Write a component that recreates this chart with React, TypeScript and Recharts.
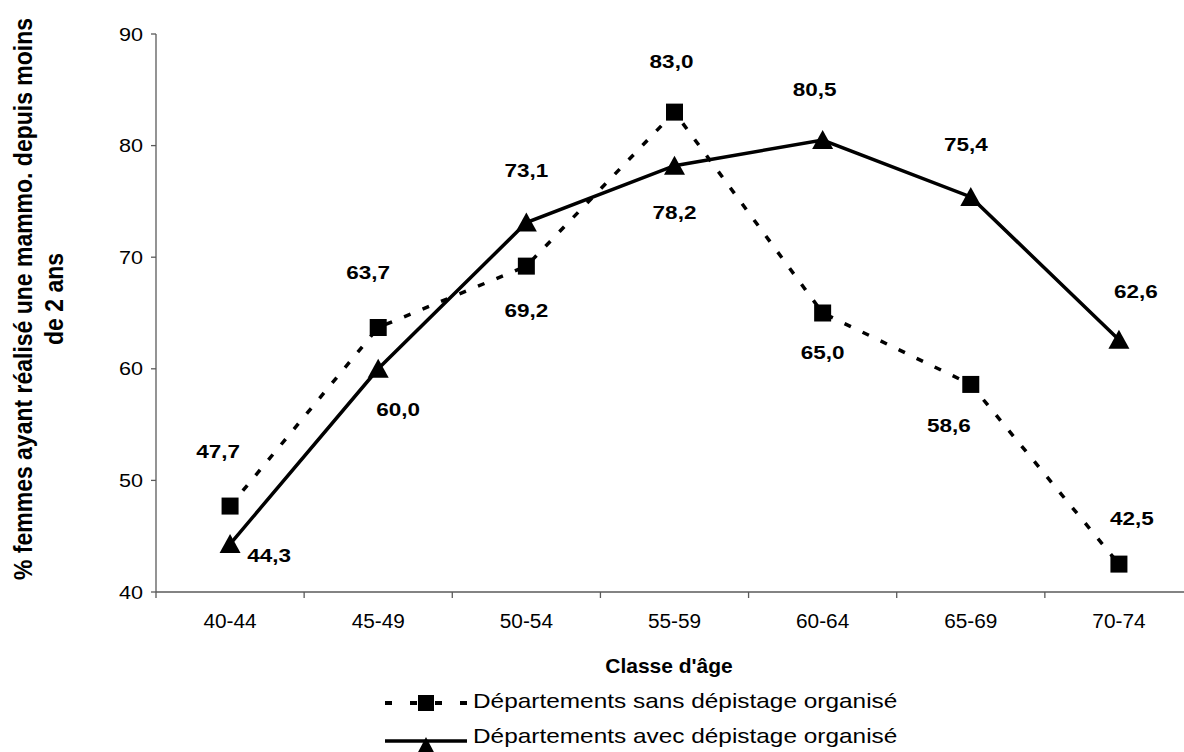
import { LineChart, Line, XAxis, YAxis, LabelList, Label } from 'recharts';

const ageClasses = ['40-44', '45-49', '50-54', '55-59', '60-64', '65-69', '70-74'];
const sansDepistage = [47.7, 63.7, 69.2, 83.0, 65.0, 58.6, 42.5];
const avecDepistage = [44.3, 60.0, 73.1, 78.2, 80.5, 75.4, 62.6];
const yTicks = [40, 50, 60, 70, 80, 90];
const seriesNames = ['Départements sans dépistage organisé', 'Départements avec dépistage organisé'];
const xTitle = "Classe d'âge";
const yTitle = ['% femmes ayant réalisé une mammo. depuis moins', 'de 2 ans'];

const chartData = ageClasses.map((age, i) => ({ age, sans: sansDepistage[i], avec: avecDepistage[i] }));

// layout
const W = 1200;
const H = 752;
const PLOT_LEFT = 156;
const PLOT_RIGHT = 1193;
const PLOT_TOP = 34;
const PLOT_BOTTOM = 592;
const BAND = (PLOT_RIGHT - PLOT_LEFT) / ageClasses.length;
const FONT = '"Liberation Sans", Arial, sans-serif';
const AXIS = '#5a5a5a';

// where each value label sits relative to its point (centre dx, dy)
const sansLabelOffsets = [[-12, -55], [-10, -55], [0, 44], [-3, -51], [0, 39], [-22, 41], [13, -46]];
const avecLabelOffsets = [[39, 11], [20, 41], [0, -52], [0, 47], [-8, -51], [-5, -52], [17, -48]];

const fmt = (v: number) => v.toFixed(1).replace('.', ',');

function WideText({ x, y, sx = 1, size, bold = false, anchor = 'middle', children }: any) {
  return (
    <text
      transform={`translate(${x},${y}) scale(${sx},1)`}
      textAnchor={anchor}
      fontFamily={FONT}
      fontSize={size}
      fontWeight={bold ? 'bold' : 'normal'}
      fill="#000"
    >
      {children}
    </text>
  );
}

const makeLabel = (offsets: number[][]) => (p: any) => {
  const [dx, dy] = offsets[p.index] || [0, 0];
  return (
    <WideText key={`l${p.index}`} x={p.x + dx} y={p.y + dy + 6.5} sx={1.25} size={18} bold>
      {fmt(Number(p.value))}
    </WideText>
  );
};

const squareDot = (p: any) => (
  <rect key={`s${p.index}`} x={p.cx - 8.5} y={p.cy - 8.5} width={17} height={17} fill="#000" />
);

const triangleDot = (p: any) => (
  <polygon
    key={`t${p.index}`}
    points={`${p.cx},${p.cy - 10} ${p.cx + 10.5},${p.cy + 9} ${p.cx - 10.5},${p.cy + 9}`}
    fill="#000"
  />
);

function AgeTick(p: any) {
  const { x, payload, index } = p;
  const left = x - BAND / 2;
  return (
    <g>
      <line x1={left} x2={left} y1={PLOT_BOTTOM} y2={PLOT_BOTTOM + 6} stroke={AXIS} strokeWidth={1.3} />
      {index === ageClasses.length - 1 && (
        <line x1={x + BAND / 2} x2={x + BAND / 2} y1={PLOT_BOTTOM} y2={PLOT_BOTTOM + 6} stroke={AXIS} strokeWidth={1.3} />
      )}
      <WideText x={x} y={628} sx={1.04} size={20}>{payload.value}</WideText>
    </g>
  );
}

function ValueTick(p: any) {
  return (
    <WideText x={p.x} y={p.y + 6.5} sx={1.2} size={18} anchor="end">
      {p.payload.value}
    </WideText>
  );
}

function YTitle() {
  return (
    <g>
      {yTitle.map((line, i) => (
        <text
          key={i}
          transform={`translate(${32 + i * 31},299) scale(1.15,1) rotate(-90)`}
          textAnchor="middle"
          fontFamily={FONT}
          fontSize={23}
          fontWeight="bold"
          fill="#000"
        >
          {line}
        </text>
      ))}
    </g>
  );
}

function XTitle() {
  return <WideText x={669} y={673} size={21} bold>{xTitle}</WideText>;
}

function ChartLegend() {
  return (
    <svg width={1184} height={82} style={{ position: 'absolute', left: 0, top: 670 }}>
      <g transform="translate(0,-670)">
        <line x1={385} x2={467} y1={703} y2={703} stroke="#000" strokeWidth={4} strokeDasharray="7 18" />
        <rect x={418} y={695} width={16} height={16} fill="#000" />
        <WideText x={473} y={708} sx={1.22} size={20} anchor="start">{seriesNames[0]}</WideText>
        <line x1={385} x2={467} y1={741} y2={741} stroke="#000" strokeWidth={3.5} />
        <polygon points="426,737 436,756 416,756" fill="#000" />
        <WideText x={473} y={743} sx={1.22} size={20} anchor="start">{seriesNames[1]}</WideText>
      </g>
    </svg>
  );
}

export default function App() {
  return (
    <div style={{ position: 'fixed', left: 0, top: 0, width: 1184, height: 752, overflow: 'hidden', background: '#fff' }}>
      <LineChart
        width={W}
        height={H}
        data={chartData}
        margin={{ top: PLOT_TOP, right: W - PLOT_RIGHT, bottom: 0, left: 0 }}
      >
        <XAxis
          dataKey="age"
          scale="point"
          padding={{ left: BAND / 2, right: BAND / 2 }}
          height={H - PLOT_BOTTOM - PLOT_TOP * 0}
          tickLine={false}
          axisLine={{ stroke: AXIS, strokeWidth: 1.3 }}
          tick={<AgeTick />}
          interval={0}
        >
          <Label content={<XTitle />} />
        </XAxis>
        <YAxis
          domain={[40, 90]}
          ticks={yTicks}
          width={PLOT_LEFT}
          tickSize={5}
          tickMargin={8}
          tickLine={{ stroke: AXIS, strokeWidth: 1.3 }}
          axisLine={{ stroke: AXIS, strokeWidth: 1.3 }}
          tick={<ValueTick />}
          interval={0}
        >
          <Label content={<YTitle />} />
        </YAxis>
        <Line
          dataKey="sans"
          name={seriesNames[0]}
          stroke="#000"
          strokeWidth={3.5}
          strokeDasharray="7 13"
          dot={squareDot}
          activeDot={false}
          isAnimationActive={false}
        >
          <LabelList dataKey="sans" content={makeLabel(sansLabelOffsets)} />
        </Line>
        <Line
          dataKey="avec"
          name={seriesNames[1]}
          stroke="#000"
          strokeWidth={3.5}
          dot={triangleDot}
          activeDot={false}
          isAnimationActive={false}
        >
          <LabelList dataKey="avec" content={makeLabel(avecLabelOffsets)} />
        </Line>
      </LineChart>
      <ChartLegend />
    </div>
  );
}
